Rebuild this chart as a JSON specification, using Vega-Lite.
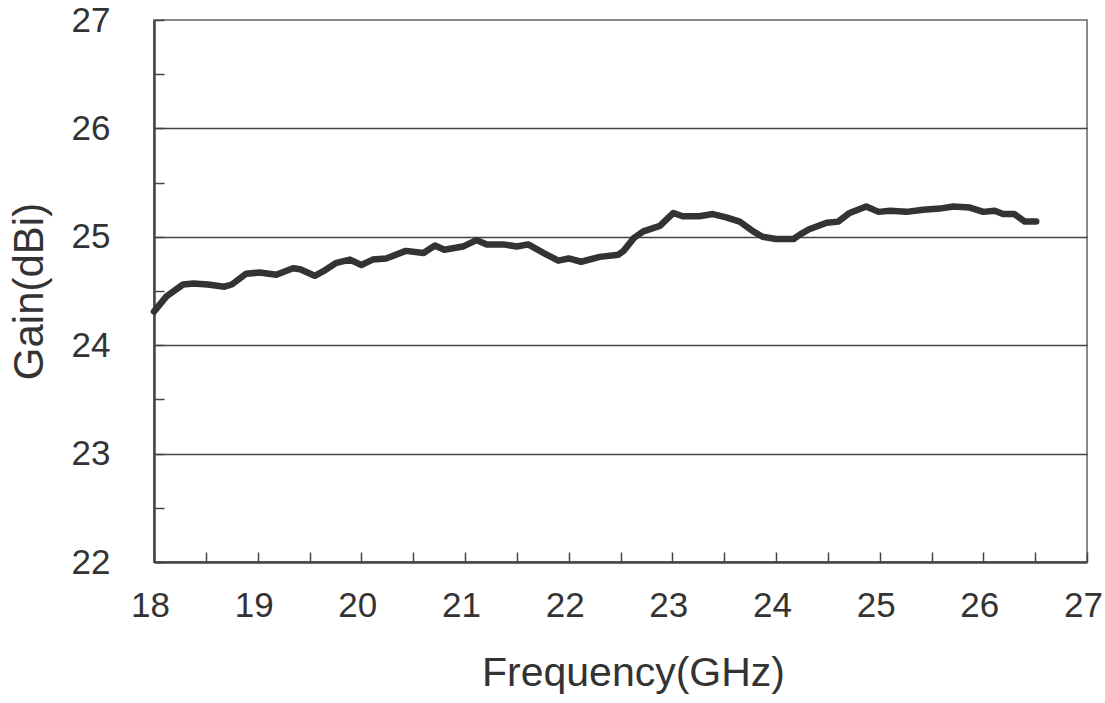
{
  "$schema": "https://vega.github.io/schema/vega-lite/v6.json",
  "autosize": "none",
  "width": 933,
  "height": 542,
  "padding": {"left": 154, "top": 20, "right": 18, "bottom": 141},
  "background": "white",
  "config": {
    "view": {"stroke": "#8a8a8a", "strokeWidth": 2},
    "font": "Liberation Sans"
  },
  "data": {"values": [
    {"f": 18.0, "g": 24.31}, {"f": 18.12, "g": 24.45}, {"f": 18.28, "g": 24.56}, {"f": 18.38, "g": 24.57},
    {"f": 18.52, "g": 24.56}, {"f": 18.68, "g": 24.54}, {"f": 18.75, "g": 24.56}, {"f": 18.89, "g": 24.66},
    {"f": 19.02, "g": 24.67}, {"f": 19.18, "g": 24.65}, {"f": 19.34, "g": 24.71}, {"f": 19.41, "g": 24.70},
    {"f": 19.55, "g": 24.64}, {"f": 19.63, "g": 24.68}, {"f": 19.76, "g": 24.76}, {"f": 19.89, "g": 24.79},
    {"f": 20.0, "g": 24.74}, {"f": 20.11, "g": 24.79}, {"f": 20.24, "g": 24.80}, {"f": 20.43, "g": 24.87},
    {"f": 20.6, "g": 24.85}, {"f": 20.71, "g": 24.92}, {"f": 20.80, "g": 24.88}, {"f": 20.98, "g": 24.91},
    {"f": 21.11, "g": 24.97}, {"f": 21.21, "g": 24.93}, {"f": 21.37, "g": 24.93}, {"f": 21.50, "g": 24.91},
    {"f": 21.61, "g": 24.93}, {"f": 21.76, "g": 24.85}, {"f": 21.90, "g": 24.78}, {"f": 22.0, "g": 24.80},
    {"f": 22.12, "g": 24.77}, {"f": 22.30, "g": 24.815}, {"f": 22.48, "g": 24.835}, {"f": 22.53, "g": 24.87},
    {"f": 22.63, "g": 24.99}, {"f": 22.72, "g": 25.05}, {"f": 22.88, "g": 25.10}, {"f": 23.01, "g": 25.22},
    {"f": 23.10, "g": 25.19}, {"f": 23.26, "g": 25.19}, {"f": 23.39, "g": 25.21}, {"f": 23.52, "g": 25.18},
    {"f": 23.65, "g": 25.14}, {"f": 23.78, "g": 25.05}, {"f": 23.87, "g": 25.00}, {"f": 24.0, "g": 24.98},
    {"f": 24.17, "g": 24.98}, {"f": 24.23, "g": 25.02}, {"f": 24.32, "g": 25.07}, {"f": 24.49, "g": 25.13},
    {"f": 24.60, "g": 25.14}, {"f": 24.71, "g": 25.22}, {"f": 24.87, "g": 25.28}, {"f": 24.99, "g": 25.23},
    {"f": 25.10, "g": 25.24}, {"f": 25.26, "g": 25.23}, {"f": 25.42, "g": 25.25}, {"f": 25.58, "g": 25.26},
    {"f": 25.71, "g": 25.28}, {"f": 25.87, "g": 25.27}, {"f": 26.0, "g": 25.23}, {"f": 26.11, "g": 25.24},
    {"f": 26.19, "g": 25.21}, {"f": 26.30, "g": 25.21}, {"f": 26.40, "g": 25.14}, {"f": 26.51, "g": 25.14}
  ]},
  "mark": {"type": "line", "color": "#333333", "strokeWidth": 6.5, "interpolate": "linear", "strokeJoin": "round", "strokeCap": "round"},
  "encoding": {
    "x": {
      "field": "f", "type": "quantitative",
      "scale": {"domain": [18, 27], "nice": false, "zero": false},
      "axis": {
        "title": "Frequency(GHz)",
        "values": [18, 18.5, 19, 19.5, 20, 20.5, 21, 21.5, 22, 22.5, 23, 23.5, 24, 24.5, 25, 25.5, 26, 26.5, 27],
        "labelExpr": "datum.value % 1 == 0 ? format(datum.value, 'd') : ''",
        "grid": false,
        "tickSize": -10, "tickColor": "#444444", "tickWidth": 1.5,
        "domainColor": "#444444", "domainWidth": 2.5,
        "labelFontSize": 35, "labelColor": "#333333", "labelPadding": 36, "labelOffset": -4, "labelFlush": false, "labelOverlap": false,
        "titleFontSize": 41, "titleColor": "#333333", "titleFontWeight": "normal", "titlePadding": 30,
        "titleX": 479, "titleAnchor": "middle"
      }
    },
    "y": {
      "field": "g", "type": "quantitative",
      "scale": {"domain": [22, 27], "nice": false, "zero": false},
      "axis": {
        "title": "Gain(dBi)",
        "values": [22, 22.5, 23, 23.5, 24, 24.5, 25, 25.5, 26, 26.5, 27],
        "labelExpr": "datum.value % 1 == 0 ? format(datum.value, 'd') : ''",
        "grid": true,
        "gridColor": "#444444", "gridWidth": 1.5,
        "gridOpacity": {"condition": {"test": "datum.value % 1 == 0 && datum.value > 22 && datum.value < 27", "value": 1}, "value": 0},
        "tickSize": -10, "tickColor": "#444444", "tickWidth": 1.5,
        "domainColor": "#444444", "domainWidth": 2.5,
        "labelFontSize": 35, "labelColor": "#333333", "labelPadding": 54, "labelFlush": false, "labelOverlap": false,
        "titleFontSize": 42, "titleColor": "#333333", "titleFontWeight": "normal", "titlePadding": 20
      }
    }
  }
}
